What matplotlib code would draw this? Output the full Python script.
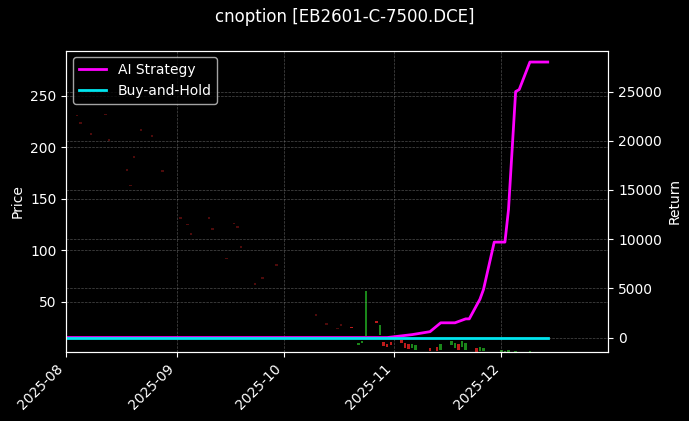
import matplotlib.pyplot as plt
import matplotlib.dates as mdates
import pandas as pd

# candles: date, open, close
candle_dates = ["2025-08-04", "2025-08-05", "2025-08-08", "2025-08-12", "2025-08-13", "2025-08-18",
                "2025-08-19", "2025-08-20", "2025-08-22", "2025-08-25", "2025-08-28", "2025-09-02",
                "2025-09-04", "2025-09-05", "2025-09-10", "2025-09-11", "2025-09-15", "2025-09-17",
                "2025-09-18", "2025-09-19", "2025-09-23", "2025-09-25", "2025-09-29", "2025-10-10",
                "2025-10-13", "2025-10-16", "2025-10-17", "2025-10-20", "2025-10-22", "2025-10-23",
                "2025-10-24", "2025-10-27", "2025-10-28", "2025-10-29", "2025-10-30", "2025-10-31",
                "2025-11-03", "2025-11-04", "2025-11-05", "2025-11-06", "2025-11-07", "2025-11-11",
                "2025-11-13", "2025-11-14", "2025-11-17", "2025-11-18", "2025-11-19", "2025-11-20",
                "2025-11-21", "2025-11-24", "2025-11-25", "2025-11-26", "2025-12-01", "2025-12-02",
                "2025-12-03", "2025-12-05", "2025-12-09"]
opens = [231, 224, 213, 232, 207, 178, 163, 191, 217, 211, 177, 131, 125, 116, 131, 121, 92, 126,
         123, 103, 67, 73, 86, 37, 28, 24, 27, 25, 8, 10, 17, 30, 18, 10, 8, 10, 12, 9, 8, 5, 3, 4,
         5, 3, 8, 5, 8, 6, 3, 4, 2, 2, 1, 1, 1, 1, 1]
closes = [230, 223, 212, 231, 206, 177, 162, 190, 216, 210, 176, 130, 124, 115, 130, 120, 91, 125,
          122, 102, 66, 72, 85, 36, 27, 23, 26, 24, 9, 11, 60, 29, 26, 7, 6, 8, 10, 5, 4, 8, 7, 2,
          2, 8, 11, 9, 3, 11, 9, 1, 5, 4, 2, 1, 2, 1, 1]

# AI strategy cumulative return
ret_dates = ["2025-08-01", "2025-10-30", "2025-11-06", "2025-11-11", "2025-11-14", "2025-11-18",
             "2025-11-21", "2025-11-22", "2025-11-25", "2025-11-26", "2025-11-27", "2025-11-29",
             "2025-12-02", "2025-12-03", "2025-12-05", "2025-12-06", "2025-12-09", "2025-12-14"]
ai_ret = [0, 0, 300, 600, 1500, 1500, 1900, 1900, 3900, 4900, 6500, 9700,
          9700, 13000, 25000, 25200, 28000, 28000]
bh_dates = ["2025-08-01", "2025-12-14"]
bh_ret = [0, 0]

plt.style.use("dark_background")
fig, ax = plt.subplots(figsize=(6.89, 4.21), dpi=100)
fig.suptitle("cnoption [EB2601-C-7500.DCE]", fontsize=12)

cd = pd.to_datetime(candle_dates)
for d, o, c in zip(cd, opens, closes):
    col = "#1f9e1f" if c >= o else "#e02020"
    alpha = 0.35 if d < pd.Timestamp("2025-10-20") else 0.85
    ax.bar(d, abs(c - o) + 0.8, bottom=min(o, c), width=0.7, color=col, alpha=alpha)
ax.set_ylim(1.5, 294)
ax.set_ylabel("Price")

ax2 = ax.twinx()
ax2.plot(pd.to_datetime(ret_dates), ai_ret, color="#ff00ff", lw=2, label="AI Strategy")
ax2.plot(pd.to_datetime(bh_dates), bh_ret, color="#00e5ee", lw=2, label="Buy-and-Hold")
ax2.set_ylim(-1420, 29170)
ax2.set_ylabel("Return")
ax2.grid(True, color="gray", ls="--", lw=0.5, alpha=0.6)
ax.grid(True, color="gray", ls="--", lw=0.5, alpha=0.6)
ax2.legend(loc="upper left")

ax.set_xlim(pd.Timestamp("2025-08-01"), pd.Timestamp("2025-12-31"))
ax.xaxis.set_major_locator(mdates.MonthLocator())
ax.xaxis.set_major_formatter(mdates.DateFormatter("%Y-%m"))
plt.setp(ax.get_xticklabels(), rotation=45, ha="right")

fig.subplots_adjust(left=0.096, right=0.883, top=0.88, bottom=0.165)
plt.savefig("out.png")
